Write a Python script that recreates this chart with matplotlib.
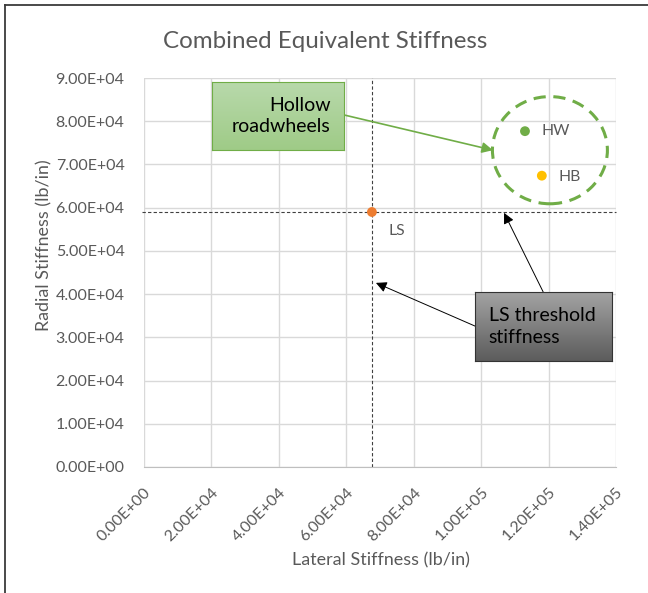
import matplotlib
matplotlib.use("Agg")
import matplotlib.pyplot as plt
import numpy as np
from matplotlib.patches import Ellipse
from matplotlib.lines import Line2D
from matplotlib.ticker import FuncFormatter

plt.rcParams['font.family'] = ['Lato', 'DejaVu Sans']

# data (lb/in)
names = ['LS', 'HW', 'HB']
lateral = [6.76e4, 1.13e5, 1.18e5]
radial = [5.90e4, 7.77e4, 6.74e4]
colors = ['#ed7d31', '#70ad47', '#ffc000']
ls_threshold_x = 6.76e4
ls_threshold_y = 5.90e4

xticks = np.arange(0, 1.4e5 + 1, 2e4)
yticks = np.arange(0, 9e4 + 1, 1e4)

grey_txt = '#595959'

fig = plt.figure(figsize=(6.48, 5.93), dpi=100)
ax = fig.add_axes([144/648, 1 - 467/593, 472/648, 389/593])

ax.set_xlim(0, 1.4e5)
ax.set_ylim(0, 9e4)
ax.set_xticks(xticks)
ax.set_yticks(yticks)
fmt = FuncFormatter(lambda v, p: "{:.2E}".format(v))
ax.xaxis.set_major_formatter(fmt)
ax.yaxis.set_major_formatter(fmt)
ax.tick_params(length=0, labelsize=11.5, labelcolor=grey_txt)
ax.tick_params(axis='y', pad=14)
ax.tick_params(axis='x', pad=13)
for lab in ax.get_xticklabels():
    lab.set_rotation(45)
    lab.set_ha('right')
    lab.set_rotation_mode('anchor')
ax.grid(True, color='#d9d9d9', linewidth=1.0)
ax.set_axisbelow(True)
for s in ['top', 'right', 'left']:
    ax.spines[s].set_visible(False)
ax.spines['bottom'].set_color('#bfbfbf')

# threshold lines
ax.axvline(ls_threshold_x, ymin=0, ymax=1, color='#404040', lw=0.8, ls=(0, (3, 2)), zorder=2)
ax.axhline(ls_threshold_y, color='#404040', lw=0.8, ls=(0, (3, 2)), zorder=2, xmin=-0.005, clip_on=False)

# points
for n, x, y, c in zip(names, lateral, radial, colors):
    ax.scatter(x, y, s=50, color=c, zorder=4, edgecolor='none')
ax.annotate('LS', (lateral[0], radial[0]), xytext=(12, -14), textcoords='offset points',
            fontsize=11.3, color=grey_txt, va='center')
ax.annotate('HW', (lateral[1], radial[1]), xytext=(12, 0), textcoords='offset points',
            fontsize=11.3, color=grey_txt, va='center')
ax.annotate('HB', (lateral[2], radial[2]), xytext=(12, -1), textcoords='offset points',
            fontsize=11.3, color=grey_txt, va='center')

# dashed circle around hollow wheels
ax.add_patch(Ellipse((1.204e5, 7.33e4), 3.41e4, 2.48e4, fill=False,
                     edgecolor='#70ad47', lw=2.2, ls=(0, (4, 2.5)), zorder=3))

# arrows
ax.annotate('', xy=(1.035e5, 7.33e4), xytext=(5.96e4, 8.14e4),
            arrowprops=dict(arrowstyle='-|>', color='#70ad47', lw=1.2, mutation_scale=16,
                            shrinkA=0, shrinkB=0))
ax.annotate('', xy=(6.88e4, 4.26e4), xytext=(9.82e4, 3.26e4),
            arrowprops=dict(arrowstyle='-|>', color='black', lw=0.7, mutation_scale=16,
                            shrinkA=0, shrinkB=0))
ax.annotate('', xy=(1.068e5, 5.88e4), xytext=(1.184e5, 4.05e4),
            arrowprops=dict(arrowstyle='-|>', color='black', lw=0.7, mutation_scale=16,
                            shrinkA=0, shrinkB=0))

fig.text(325/648, 1 - 41/593, 'Combined Equivalent Stiffness', fontsize=17.4,
         color=grey_txt, ha='center', va='center')
fig.text(381/648, 1 - 560/593, 'Lateral Stiffness (lb/in)', fontsize=12.9,
         color=grey_txt, ha='center', va='center')
fig.text(44/648, 1 - 245/593, 'Radial Stiffness (lb/in)', fontsize=12.9,
         color=grey_txt, ha='center', va='center', rotation=90)


def gradient_box(rect, top, bottom, edge, text, ha, tx):
    bx = fig.add_axes(rect)
    c1 = np.array(matplotlib.colors.to_rgb(top))
    c2 = np.array(matplotlib.colors.to_rgb(bottom))
    t = np.linspace(0, 1, 64)[:, None]
    img = (c1 * (1 - t) + c2 * t)[:, None, :]
    bx.imshow(img, aspect='auto', extent=[0, 1, 0, 1])
    bx.set_xlim(0, 1)
    bx.set_ylim(0, 1)
    bx.set_xticks([])
    bx.set_yticks([])
    for s in bx.spines.values():
        s.set_color(edge)
        s.set_linewidth(0.8)
    bx.text(tx, 0.5, text, ha=ha, va='center', fontsize=14, color='black',
            linespacing=1.35, transform=bx.transAxes)
    return bx


gradient_box([212/648, 1 - 150/593, 132/648, 68/593], '#b8d9ab', '#9fcb87', '#70ad47',
             'Hollow\nroadwheels', 'right', 0.9)
gradient_box([475/648, 1 - 361/593, 137/648, 69/593], '#a3a3a3', '#5c5c5c', '#333333',
             'LS threshold\nstiffness', 'left', 0.1)

# frame lines of the picture
fig.add_artist(Line2D([5/648, 5/648], [0, 1 - 5/593], color='#3a3a3a', lw=1.3))
fig.add_artist(Line2D([5/648, 1], [1 - 5/593, 1 - 5/593], color='#3a3a3a', lw=1.3))

fig.savefig('out.png', dpi=100)
